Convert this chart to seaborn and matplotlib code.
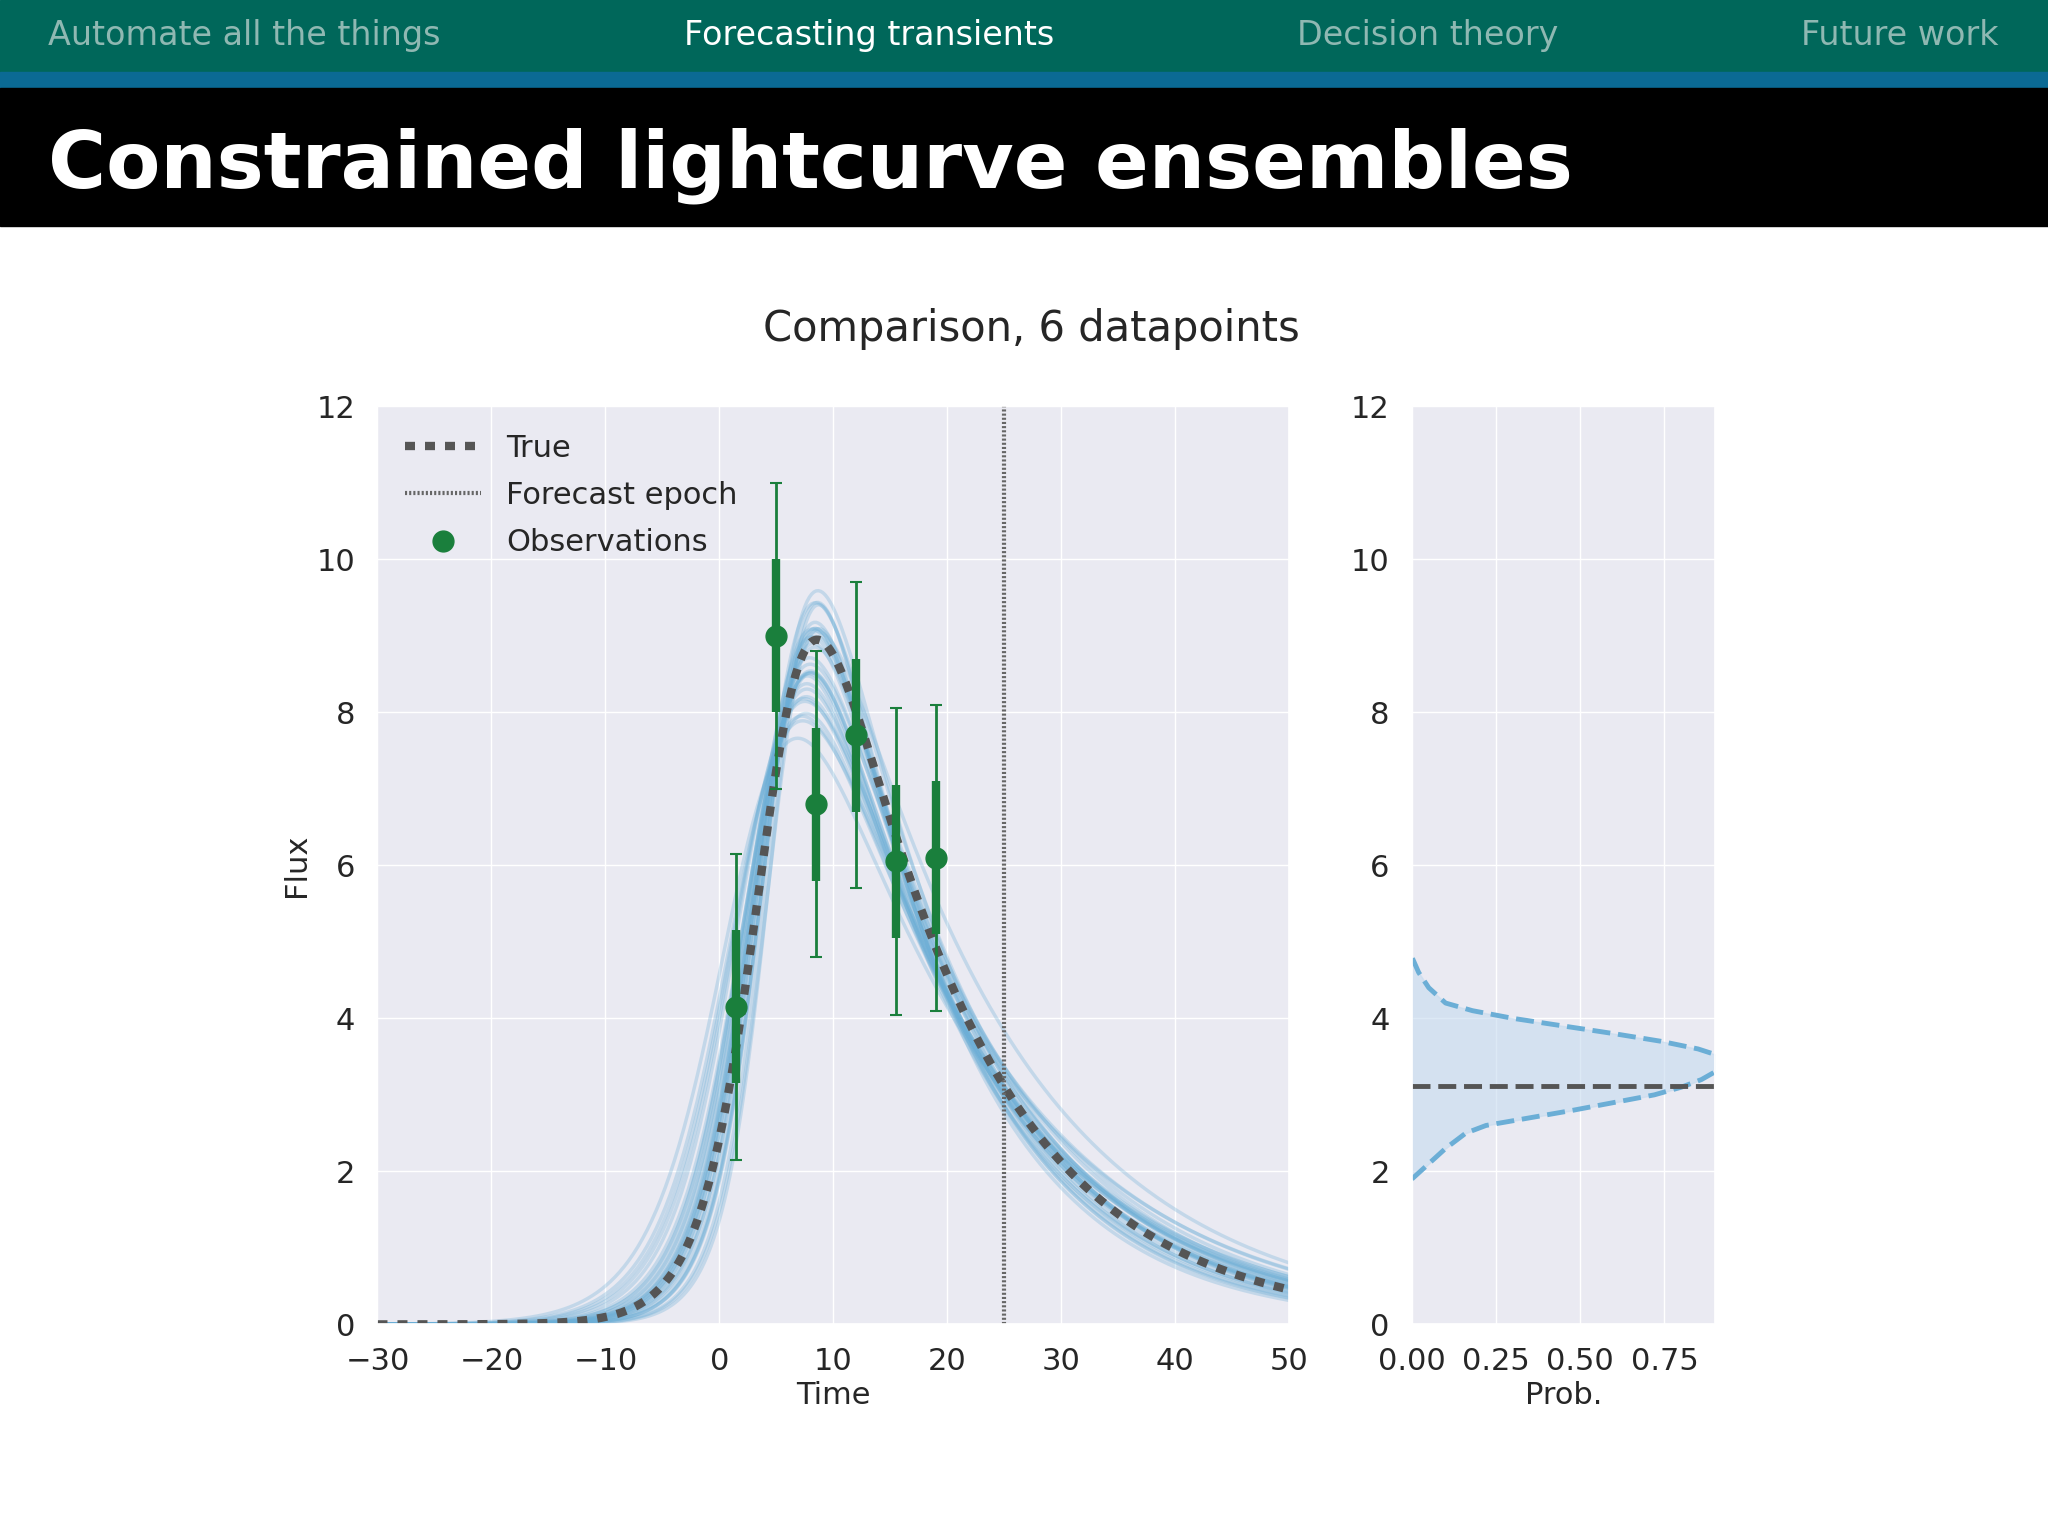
import numpy as np
import matplotlib.pyplot as plt
import seaborn as sns

# true lightcurve parameters: amplitude, t0, rise, fall
true_params = (14.5, 5.0, 3.0, 13.0)
# posterior ensemble parameter sets (amplitude, t0, rise, fall)
ens_amp = [13.3, 13.8, 12.8, 14.4, 14.1, 12.9, 14.4, 14.8, 13.4, 13.9, 12.6, 15.1,
           13.6, 13.1, 14.3, 14.6, 13.5, 14.0, 12.7, 15.0, 13.7, 13.2, 14.2, 14.5,
           13.0, 13.9, 14.9, 13.3, 14.4, 13.6]
ens_t0 = [4.0, 4.5, 3.5, 5.0, 4.2, 3.0, 5.5, 4.8, 3.8, 4.4, 2.5, 5.2,
          4.1, 3.6, 4.9, 5.1, 3.9, 4.6, 2.8, 5.4, 4.3, 3.3, 4.7, 5.0,
          3.1, 4.0, 5.6, 3.7, 4.5, 4.2]
ens_rise = [2.8, 3.0, 3.3, 2.6, 2.9, 3.6, 2.5, 2.7, 3.1, 2.9, 3.9, 2.6,
            3.0, 3.2, 2.8, 2.7, 3.0, 2.9, 3.7, 2.5, 3.0, 3.4, 2.8, 2.6,
            3.5, 3.1, 2.4, 3.2, 2.8, 3.0]
ens_fall = [14.0, 13.0, 15.0, 12.5, 14.5, 15.5, 12.0, 13.5, 14.2, 16.0, 15.8, 12.8,
            13.8, 14.8, 13.2, 12.2, 15.2, 14.0, 16.5, 11.8, 13.6, 15.0, 13.0, 12.6,
            16.2, 14.4, 11.5, 14.6, 13.4, 13.9]

obs_t = [1.5, 5.0, 8.5, 12.0, 15.5, 19.0]
obs_f = [4.15, 9.0, 6.8, 7.7, 6.05, 6.1]
obs_err = [1.0, 1.0, 1.0, 1.0, 1.0, 1.0]

forecast_epoch = 25.0
# forecast flux distribution at the epoch (flux level, probability)
pdf_flux = [1.9, 2.1, 2.3, 2.5, 2.6, 2.7, 2.8, 2.9, 3.0, 3.1, 3.2, 3.3, 3.4, 3.5,
            3.6, 3.7, 3.8, 3.9, 4.0, 4.1, 4.2, 4.4, 4.6, 4.8]
pdf_prob = [0.0, 0.05, 0.1, 0.16, 0.22, 0.35, 0.48, 0.6, 0.72, 0.8, 0.86, 0.9, 0.93, 0.92,
            0.85, 0.74, 0.6, 0.45, 0.3, 0.18, 0.1, 0.05, 0.02, 0.0]


def lightcurve(t, amp, t0, tr, tf):
    x = t - t0
    return amp / (np.exp(-x / tr) + np.exp(x / tf))


sns.set_theme(style="darkgrid")
plt.rcParams["font.family"] = ["DejaVu Sans"]

fig = plt.figure(figsize=(20.48, 15.36), dpi=100)

# slide header
fig.patches.append(plt.Rectangle((0, 1 - 55 / 1176), 1, 55 / 1176, transform=fig.transFigure,
                                 color="#00675a", zorder=0))
fig.patches.append(plt.Rectangle((0, 1 - 67 / 1176), 1, 12 / 1176, transform=fig.transFigure,
                                 color="#0b6a94", zorder=0))
fig.patches.append(plt.Rectangle((0, 1 - 173 / 1176), 1, 106 / 1176, transform=fig.transFigure,
                                 color="black", zorder=0))
nav = ["Automate all the things", "Forecasting transients", "Decision theory", "Future work"]
nav_x = [37 / 1568, 524 / 1568, 993 / 1568, 1530 / 1568]
for i, (lab, x) in enumerate(zip(nav, nav_x)):
    fig.text(x, 1 - 27 / 1176, lab, ha="right" if i == 3 else "left", va="center",
             fontsize=24, color="white" if i == 1 else "#8fb8b2")
fig.text(37 / 1568, 1 - 127 / 1176, "Constrained lightcurve ensembles", fontsize=57,
         fontweight="bold", color="white", va="center")
fig.text(790 / 1568, 1 - 252 / 1176, "Comparison, 6 datapoints", ha="center", va="center",
         fontsize=30, color="#262626")

ax = fig.add_axes([289 / 1568, 1 - 1014 / 1176, 698 / 1568, 703 / 1176])
ax2 = fig.add_axes([1081 / 1568, 1 - 1014 / 1176, 232 / 1568, 703 / 1176])

t = np.linspace(-30, 50, 400)
for a, t0, tr, tf in zip(ens_amp, ens_t0, ens_rise, ens_fall):
    sns.lineplot(x=t, y=lightcurve(t, a, t0, tr, tf), ax=ax, color="#6baed6",
                 alpha=0.3, lw=2.5)
ax.plot(t, lightcurve(t, *true_params), ls=(0, (1.2, 1.2)), color="#555555", lw=6,
        label="True")
ax.axvline(forecast_epoch, color="#666666", ls=(0, (0.5, 0.5)), lw=3, label="Forecast epoch")
ax.errorbar(obs_t, obs_f, yerr=[2 * e for e in obs_err], fmt="none", ecolor="#1a7f3c",
            elinewidth=2, capsize=4, capthick=1.5)
ax.errorbar(obs_t, obs_f, yerr=obs_err, fmt="o", color="#1a7f3c", ms=15, elinewidth=6,
            label="Observations")
ax.set_xlim(-30, 50)
ax.set_ylim(0, 12)
ax.set_xlabel("Time", fontsize=22)
ax.set_ylabel("Flux", fontsize=22)
ax.tick_params(labelsize=22, pad=10)
handles, labels = ax.get_legend_handles_labels()
handles[2] = plt.Line2D([], [], marker="o", ls="none", color="#1a7f3c", ms=15)
ax.legend(handles, labels, loc="upper left", fontsize=22, frameon=False, handlelength=2.5,
          labelspacing=0.6)

pf = np.array(pdf_flux)
pp = np.array(pdf_prob)
ax2.fill_betweenx(pf, 0, pp, color="#c6dbef", alpha=0.6)
ax2.plot(pp, pf, ls="--", color="#6baed6", lw=3.5)
ax2.axhline(lightcurve(forecast_epoch, *true_params), color="#555555", ls="--", lw=3.5)
ax2.set_xlim(0, 0.9)
ax2.set_ylim(0, 12)
ax2.set_xticks([0, 0.25, 0.5, 0.75])
ax2.set_xlabel("Prob.", fontsize=22)
ax2.tick_params(labelsize=22, pad=10)

fig.savefig("out.png", dpi=100)
